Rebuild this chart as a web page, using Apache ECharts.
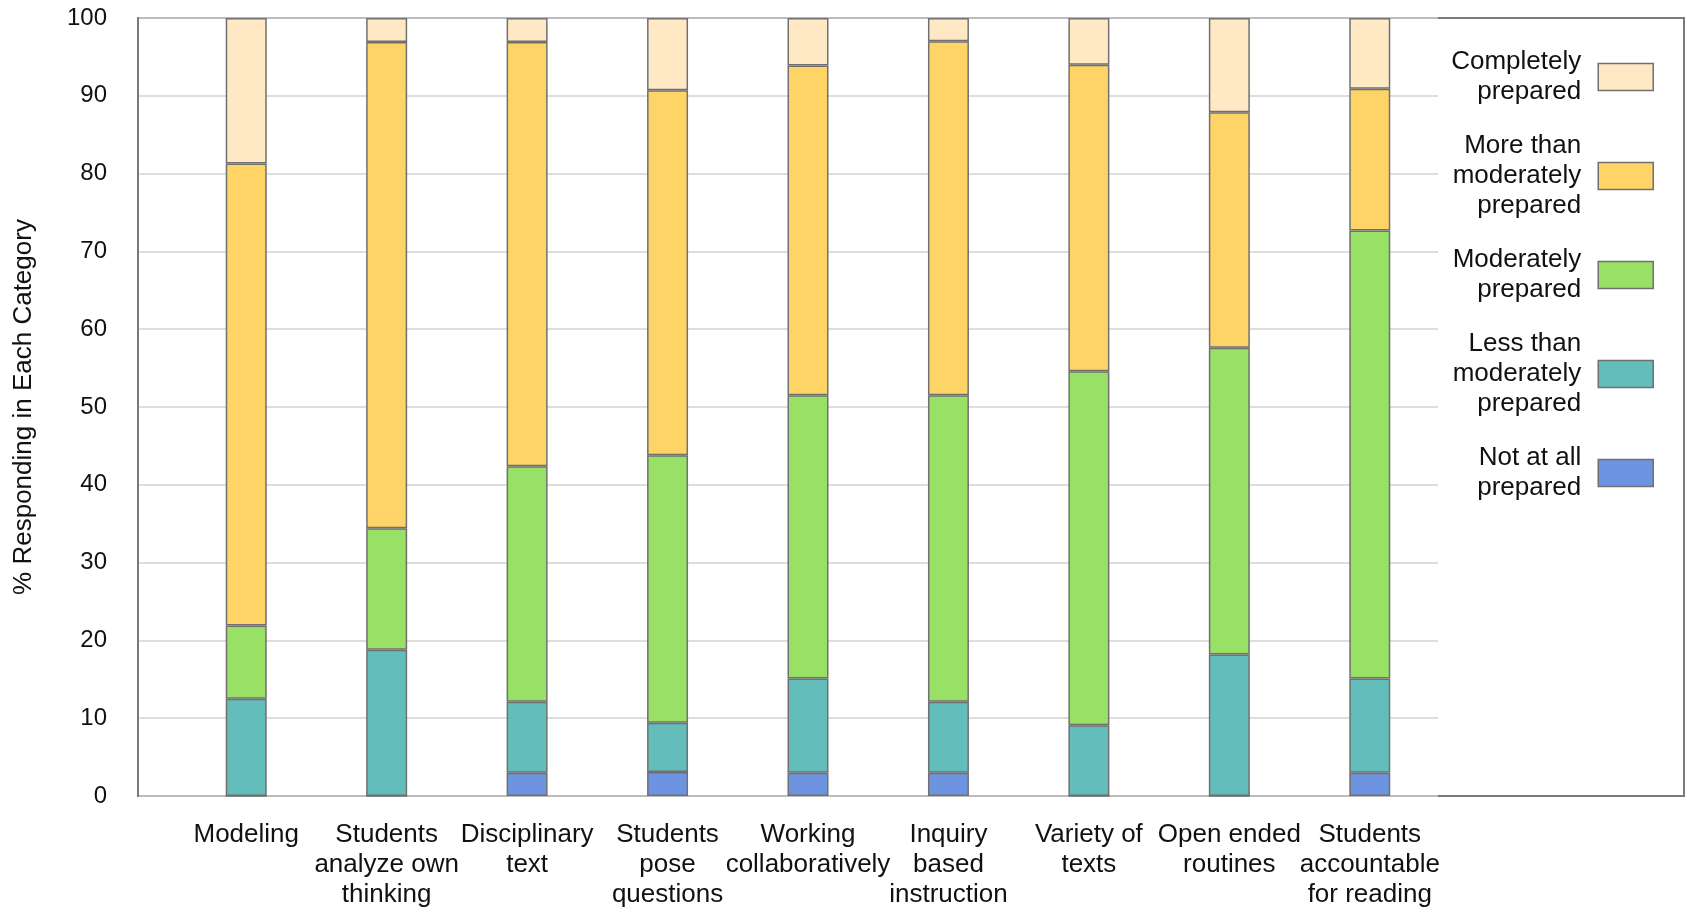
<!DOCTYPE html>
<html>
<head>
<meta charset="utf-8">
<script src="https://cdn.jsdelivr.net/npm/echarts@6/dist/echarts.min.js"></script>
<style>
html,body{margin:0;padding:0;background:#fff;}
#chart{width:1686px;height:912px;}
</style>
</head>
<body>
<div id="chart"></div>
<script>
const categories = [
  "Modeling",
  "Students\nanalyze own\nthinking",
  "Disciplinary\ntext",
  "Students\npose\nquestions",
  "Working\ncollaboratively",
  "Inquiry\nbased\ninstruction",
  "Variety of\ntexts",
  "Open ended\nroutines",
  "Students\naccountable\nfor reading"
];
const yTicks = [0, 10, 20, 30, 40, 50, 60, 70, 80, 90, 100];
const notAtAll      = [0,    0,    3.0,  3.1,  3.0,  3.0,  0,    0,    3.0];
const lessThan      = [12.5, 18.8, 9.1,  6.3,  12.1, 9.1,  9.1,  18.2, 12.1];
const moderately    = [9.4,  15.6, 30.3, 34.4, 36.4, 39.4, 45.5, 39.4, 57.6];
const moreThan      = [59.4, 62.5, 54.5, 46.9, 42.4, 45.5, 39.4, 30.3, 18.2];
const completely    = [18.7, 3.1,  3.1,  9.3,  6.1,  3.0,  6.0,  12.1, 9.1];

const seriesNames = {
  not: "Not at all\nprepared",
  less: "Less than\nmoderately\nprepared",
  mod: "Moderately\nprepared",
  more: "More than\nmoderately\nprepared",
  comp: "Completely\nprepared"
};
const colors = {
  not: "#6C94E0",
  less: "#63BEBB",
  mod: "#98E066",
  more: "#FFD466",
  comp: "#FFE9C5"
};

const FONT = "Liberation Sans, Arial, sans-serif";
const chart = echarts.init(document.getElementById('chart'), null, {renderer: 'canvas'});

function barSeries(key, data) {
  return {
    name: seriesNames[key],
    type: 'bar',
    stack: 'total',
    xAxisIndex: 2,
    yAxisIndex: 2,
    data: data,
    barWidth: 41,
    itemStyle: {color: colors[key], borderColor: '#707070', borderWidth: 1.5},
    emphasis: {disabled: true}
  };
}

chart.setOption({
  animation: false,
  backgroundColor: '#fff',
  grid: [
    {left: 138, right: 2, top: 18, bottom: 116, show: true, borderColor: '#7A7A7A', borderWidth: 2, backgroundColor: 'transparent'},
    {left: 138, right: 248, top: 18, bottom: 116},
    {left: 176, right: 246, top: 18, bottom: 116}
  ],
  xAxis: [
    {gridIndex: 0, type: 'value', show: false, min: 0, max: 1},
    {gridIndex: 1, type: 'value', show: false, min: 0, max: 1},
    {gridIndex: 2, type: 'category', data: categories,
      axisLine: {show: false}, axisTick: {show: false},
      axisLabel: {interval: 0, margin: 24, fontFamily: FONT, fontSize: 26, lineHeight: 30, color: '#111', align: 'center', verticalAlign: 'top'}}
  ],
  yAxis: [
    {gridIndex: 0, type: 'value', show: false, min: 0, max: 100},
    {gridIndex: 1, type: 'value', min: yTicks[0], max: yTicks[yTicks.length - 1], interval: 10,
      name: '% Responding in Each Category', nameLocation: 'middle', nameGap: 101,
      nameTextStyle: {fontFamily: FONT, fontSize: 26, color: '#111'},
      axisLine: {show: true, lineStyle: {color: '#7A7A7A', width: 2}},
      axisTick: {show: false},
      axisLabel: {margin: 31, fontFamily: FONT, fontSize: 24, color: '#111'},
      splitLine: {show: true, lineStyle: {color: '#D3D3D3', width: 1.5}}},
    {gridIndex: 2, type: 'value', show: false, min: 0, max: 100}
  ],
  legend: {
    data: [seriesNames.comp, seriesNames.more, seriesNames.mod, seriesNames.less, seriesNames.not],
    orient: 'vertical',
    right: 32,
    top: 47,
    padding: 0,
    align: 'right',
    itemWidth: 55,
    itemHeight: 27,
    itemGap: 24,
    icon: 'rect',
    selectedMode: false,
    itemStyle: {borderColor: '#707070', borderWidth: 1.5},
    textStyle: {fontFamily: FONT, fontSize: 26, lineHeight: 30, color: '#111', align: 'right', padding: [0, 12, 0, 0]}
  },
  series: [
    barSeries('not', notAtAll),
    barSeries('less', lessThan),
    barSeries('mod', moderately),
    barSeries('more', moreThan),
    barSeries('comp', completely)
  ]
});
</script>
</body>
</html>
